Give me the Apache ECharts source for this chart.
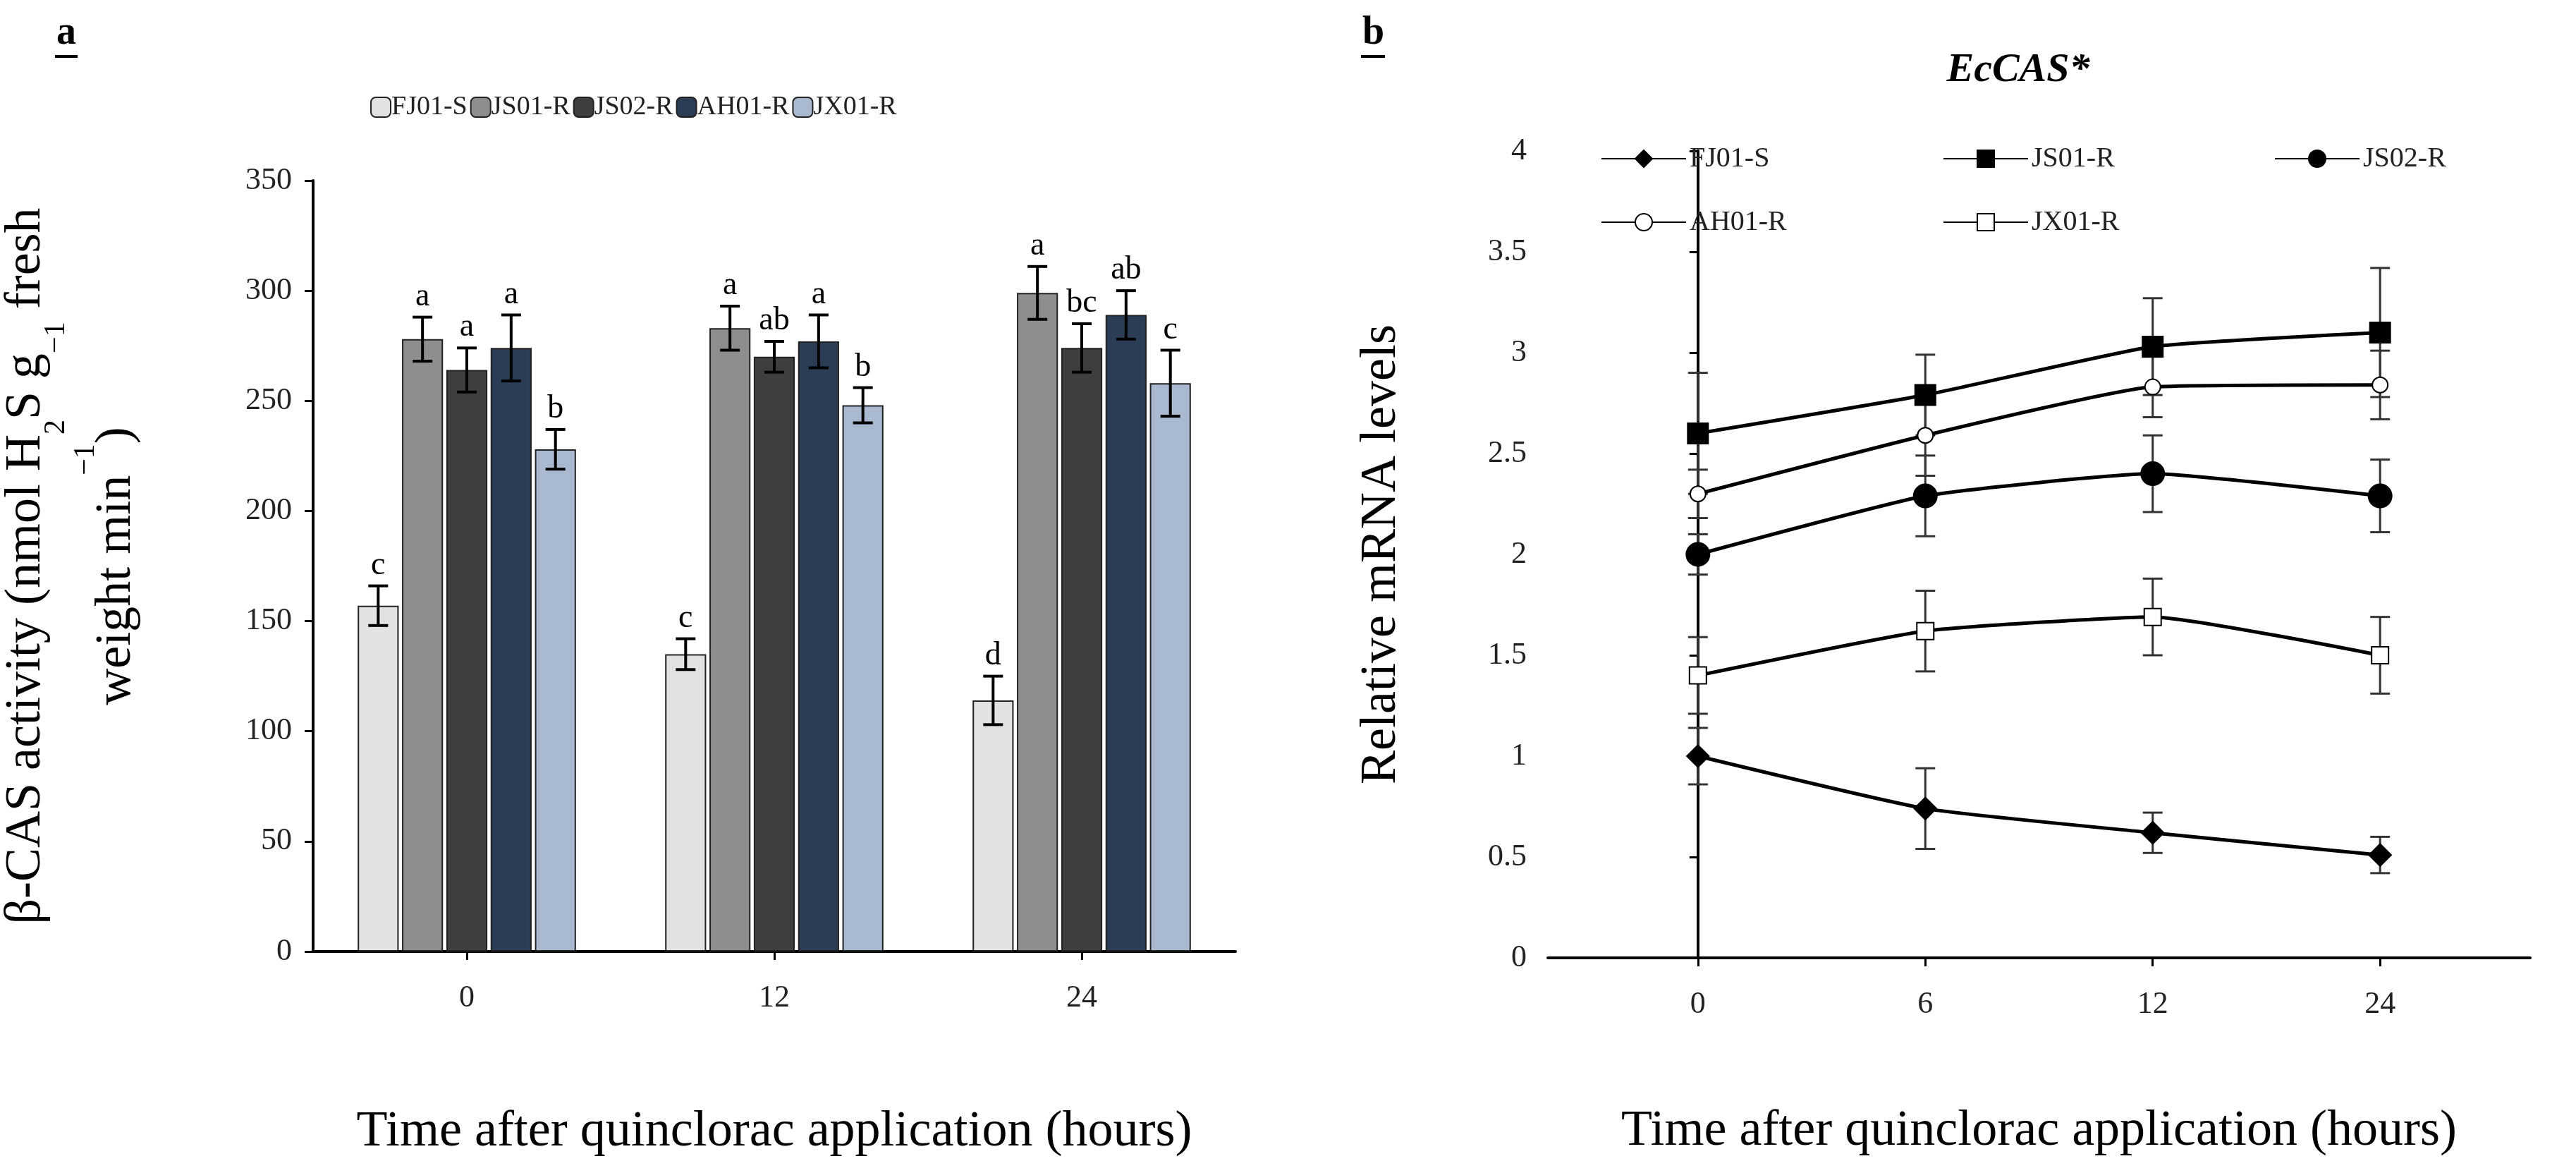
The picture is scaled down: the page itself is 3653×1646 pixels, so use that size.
<!DOCTYPE html>
<html>
<head>
<meta charset="utf-8">
<script src="https://cdn.jsdelivr.net/npm/echarts@6/dist/echarts.min.js"></script>
<style>html,body{margin:0;padding:0;background:#fff}#chart{width:3653px;height:1646px}</style>
</head>
<body>
<div id="chart"></div>
<script>
// panel a: beta-CAS activity
var barCats = ['0', '12', '24'];
var barNames = ['FJ01-S', 'JS01-R', 'JS02-R', 'AH01-R', 'JX01-R'];
var barColors = ['#e2e2e2', '#8e8e8e', '#3e3e3e', '#2b3d54', '#a9bad0'];
var barVals = [
	[157, 135, 114],
	[278, 283, 299],
	[264, 270, 274],
	[274, 277, 289],
	[228, 248, 258]
];
var barErr = [
	[9, 7, 11],
	[10, 10, 12],
	[10, 7, 11],
	[15, 12, 11],
	[9, 8, 15]
];
var barLetters = [
	['c', 'c', 'd'],
	['a', 'a', 'a'],
	['a', 'ab', 'bc'],
	['a', 'a', 'ab'],
	['b', 'b', 'c']
];

// panel b: EcCAS relative expression
var lineCats = ['0', '6', '12', '24'];
var lineNames = ['FJ01-S', 'JS01-R', 'JS02-R', 'AH01-R', 'JX01-R'];
var lineSymbols = ['diamond', 'rect', 'circle', 'emptyCircle', 'emptyRect'];
var lineSymbolSize = [30, 28, 32, 22, 24];
var lineVals = [
	[1.0, 0.74, 0.62, 0.51],
	[2.6, 2.79, 3.03, 3.1],
	[2.0, 2.29, 2.4, 2.29],
	[2.3, 2.59, 2.83, 2.84],
	[1.4, 1.62, 1.69, 1.5]
];
var lineErr = [
	[0.14, 0.2, 0.1, 0.09],
	[0.3, 0.2, 0.24, 0.32],
	[0.1, 0.2, 0.19, 0.18],
	[0.12, 0.2, 0.15, 0.17],
	[0.19, 0.2, 0.19, 0.19]
];

var FONT = 'Liberation Serif';
var chart = echarts.init(document.getElementById('chart'));

var CAT_GAP = 0.29, BAR_GAP = 0.08;

function barErrSeries(si){
	return {
		type: 'custom',
		xAxisIndex: 0, yAxisIndex: 0,
		z: 5,
		data: barVals[si].map(function(v, j){ return [j, v, barErr[si][j]]; }),
		renderItem: function(params, api){
			var band = api.size([1, 0])[0];
			var w = band * (1 - CAT_GAP) / (5 + 4 * BAR_GAP);
			var off = -band * (1 - CAT_GAP) / 2 + w / 2 + si * w * (1 + BAR_GAP);
			var c = api.coord([api.value(0), api.value(1)]);
			var x = c[0] + off;
			var hi = api.coord([api.value(0), api.value(1) + api.value(2)])[1];
			var lo = api.coord([api.value(0), api.value(1) - api.value(2)])[1];
			var cap = 14;
			var st = {stroke: '#000', lineWidth: 4};
			return {type: 'group', children: [
				{type: 'line', shape: {x1: x, y1: hi, x2: x, y2: lo}, style: st},
				{type: 'line', shape: {x1: x - cap, y1: hi, x2: x + cap, y2: hi}, style: st},
				{type: 'line', shape: {x1: x - cap, y1: lo, x2: x + cap, y2: lo}, style: st},
				{type: 'text', x: x, y: hi - 6, style: {text: barLetters[si][params.dataIndex], fill: '#000',
					font: '46px "' + FONT + '"', align: 'center', verticalAlign: 'bottom'}}
			]};
		}
	};
}

function lineErrSeries(si){
	return {
		type: 'custom',
		xAxisIndex: 1, yAxisIndex: 1,
		z: 1,
		data: lineVals[si].map(function(v, j){ return [j, v, lineErr[si][j]]; }),
		renderItem: function(params, api){
			var x = api.coord([api.value(0), api.value(1)])[0];
			var hi = api.coord([api.value(0), api.value(1) + api.value(2)])[1];
			var lo = api.coord([api.value(0), api.value(1) - api.value(2)])[1];
			var cap = 14;
			var st = {stroke: '#333', lineWidth: 3};
			return {type: 'group', children: [
				{type: 'line', shape: {x1: x, y1: hi, x2: x, y2: lo}, style: st},
				{type: 'line', shape: {x1: x - cap, y1: hi, x2: x + cap, y2: hi}, style: st},
				{type: 'line', shape: {x1: x - cap, y1: lo, x2: x + cap, y2: lo}, style: st}
			]};
		}
	};
}

var series = [];
for (var i = 0; i < barNames.length; i++) {
	series.push({
		name: barNames[i], type: 'bar', xAxisIndex: 0, yAxisIndex: 0,
		barCategoryGap: (CAT_GAP * 100) + '%', barGap: (BAR_GAP * 100) + '%',
		itemStyle: {color: barColors[i], borderColor: '#222', borderWidth: 2},
		data: barVals[i]
	});
}
for (var i = 0; i < barNames.length; i++) series.push(barErrSeries(i));
for (var i = 0; i < lineNames.length; i++) {
	series.push({
		name: lineNames[i] + ' ', type: 'line', xAxisIndex: 1, yAxisIndex: 1,
		symbol: lineSymbols[i], symbolSize: lineSymbolSize[i], smooth: 0.15,
		lineStyle: {color: '#000', width: 5},
		itemStyle: {color: '#000', borderColor: '#000', borderWidth: 3},
		z: 3,
		data: lineVals[i].map(function(v, j){ return [j, v]; })
	});
}
for (var i = 0; i < lineNames.length; i++) series.push(lineErrSeries(i));

var axisTxt = {color: '#222', fontFamily: FONT, fontSize: 44};
var lineLegendPos = [[2265, 200], [2750, 200], [3220, 200], [2265, 290], [2750, 290]];
var legends = [{
	data: barNames, top: 128, left: 520, itemGap: 4,
	itemWidth: 28, itemHeight: 28,
	textStyle: {fontFamily: FONT, fontSize: 38, color: '#222', padding: [0, 0, 0, -4]}
}];
lineLegendPos.forEach(function(p, k){
	legends.push({
		data: [lineNames[k] + ' '], left: p[0], top: p[1],
		itemWidth: 120, itemHeight: 30,
		textStyle: {fontFamily: FONT, fontSize: 40, color: '#222'}
	});
});

chart.setOption({
	backgroundColor: '#fff',
	animation: false,
	legend: legends,
	grid: [
		{left: 412, right: 1901, top: 256, bottom: 278},
		{left: 2195, right: 65, top: 214, bottom: 288}
	],
	xAxis: [{
		gridIndex: 0, type: 'category', data: barCats,
		axisLine: {lineStyle: {color: '#000', width: 4}},
		axisTick: {show: true, alignWithLabel: true, length: 12, lineStyle: {color: '#000', width: 3}},
		axisLabel: Object.assign({margin: 44}, axisTxt),
		name: 'Time after quinclorac application (hours)', nameLocation: 'middle', nameGap: 220,
		nameTextStyle: {fontFamily: FONT, fontSize: 72, color: '#000'}
	}, {
		gridIndex: 1, type: 'value', min: -0.66, max: 3.66,
		splitLine: {show: false},
		axisLine: {lineStyle: {color: '#000', width: 4}},
		axisTick: {show: true, customValues: [0, 1, 2, 3], length: 12, lineStyle: {color: '#000', width: 3}},
		axisLabel: Object.assign({margin: 44, customValues: [0, 1, 2, 3],
			formatter: function(v){ return lineCats[Math.round(v)]; }}, axisTxt),
		name: 'Time after quinclorac application (hours)', nameLocation: 'middle', nameGap: 210,
		nameTextStyle: {fontFamily: FONT, fontSize: 72, color: '#000'}
	}],
	yAxis: [{
		gridIndex: 0, type: 'value', min: 0, max: 350, interval: 50,
		splitLine: {show: false},
		axisLine: {show: true, lineStyle: {color: '#000', width: 4}},
		axisTick: {show: true, length: 12, lineStyle: {color: '#000', width: 3}},
		axisLabel: Object.assign({margin: 30}, axisTxt),
		name: '{t|β-CAS activity (nmol H}{s|2}{t|S g}{s|−1}{t| fresh}\n{t|weight min}{u|−1}{t|)}',
		nameLocation: 'middle', nameGap: 215, nameRotate: 90,
		nameTextStyle: {rich: {
			t: {fontFamily: FONT, fontSize: 72, color: '#000', lineHeight: 128},
			s: {fontFamily: FONT, fontSize: 42, color: '#000', verticalAlign: 'bottom', padding: [28, 0, 0, 0]},
			u: {fontFamily: FONT, fontSize: 42, color: '#000', verticalAlign: 'top', padding: [0, 0, 28, 0]}
		}}
	}, {
		gridIndex: 1, type: 'value', min: 0, max: 4, interval: 0.5,
		splitLine: {show: false},
		axisLine: {show: true, lineStyle: {color: '#000', width: 4}},
		axisTick: {show: true, length: 12, lineStyle: {color: '#000', width: 3}},
		axisLabel: Object.assign({margin: 30}, axisTxt),
		name: 'Relative mRNA levels', nameLocation: 'middle', nameGap: 200, nameRotate: 90,
		nameTextStyle: {fontFamily: FONT, fontSize: 72, color: '#000'}
	}],
	graphic: [
		{type: 'text', left: 80, top: 20, style: {text: 'a', font: 'bold 56px "' + FONT + '"', fill: '#000'}},
		{type: 'rect', left: 78, top: 78, shape: {width: 32, height: 4}, style: {fill: '#000'}},
		{type: 'text', left: 1932, top: 20, style: {text: 'b', font: 'bold 56px "' + FONT + '"', fill: '#000'}},
		{type: 'rect', left: 1930, top: 78, shape: {width: 34, height: 4}, style: {fill: '#000'}},
		{type: 'text', x: 2862, y: 100, style: {text: 'EcCAS*', font: 'italic bold 58px "' + FONT + '"',
			fill: '#000', align: 'center', verticalAlign: 'middle'}}
	],
	series: series
});
</script>
</body>
</html>
